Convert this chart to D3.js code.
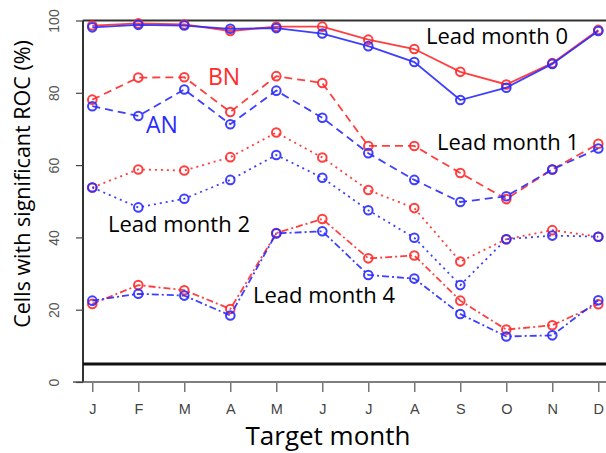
<!DOCTYPE html>
<html><head><meta charset="utf-8">
<script src="https://cdn.jsdelivr.net/npm/d3@7/dist/d3.min.js"></script>
<style>body{margin:0;background:#fff}svg{display:block}</style>
</head><body><svg id="c" width="606" height="453"></svg>
<script>
const months = ["J","F","M","A","M","J","J","A","S","O","N","D"];
const yTicks = [0,20,40,60,80,100];
// Below normal (BN, red) and above normal (AN, blue)
const bnLead0 = [98.6,99.2,98.9,97.1,98.3,98.3,94.7,92.1,85.8,82.3,88.2,97.4];
const anLead0 = [98.1,98.8,98.6,97.7,97.9,96.4,92.9,88.5,78.0,81.4,88.0,97.1];
const bnLead1 = [78.1,84.2,84.3,74.7,84.6,82.7,65.3,65.3,57.8,50.6,58.8,65.9];
const anLead1 = [76.3,73.6,80.9,71.3,80.6,73.1,63.3,55.9,49.8,51.4,58.8,64.6];
const bnLead2 = [53.8,58.8,58.5,62.2,69.0,62.1,53.1,48.1,33.3,39.5,42.0,40.2];
const anLead2 = [53.8,48.3,50.7,55.9,62.8,56.5,47.5,39.9,26.8,39.5,40.5,40.2];
const bnLead4 = [21.6,26.8,25.4,20.2,41.2,45.1,34.2,35.0,22.5,14.5,15.7,21.5];
const anLead4 = [22.5,24.4,23.9,18.4,41.1,41.7,29.6,28.6,18.8,12.6,12.9,22.6];
const threshold = 5;

const series = [
  {vals: bnLead0, color: "#ff2a2a", dash: null},
  {vals: anLead0, color: "#2a2aff", dash: null},
  {vals: bnLead1, color: "#ff2a2a", dash: "8,5"},
  {vals: anLead1, color: "#2a2aff", dash: "8,5"},
  {vals: bnLead2, color: "#ff2a2a", dash: "2,4"},
  {vals: anLead2, color: "#2a2aff", dash: "2,4"},
  {vals: bnLead4, color: "#ff2a2a", dash: "7,3,2,3"},
  {vals: anLead4, color: "#2a2aff", dash: "7,3,2,3"}
];

const svg = d3.select("#c");
const x = d3.scaleLinear().domain([0,11]).range([92.3,598.3]);
const y = d3.scaleLinear().domain([0,100]).range([382,20.5]);

// frame
svg.append("line").attr("x1",83).attr("x2",606).attr("y1",y(100)).attr("y2",y(100)).attr("stroke","#333").attr("stroke-width",2);
svg.append("line").attr("x1",83).attr("x2",83).attr("y1",y(100)).attr("y2",y(0)).attr("stroke","#333").attr("stroke-width",2);
svg.append("line").attr("x1",73).attr("x2",606).attr("y1",y(0)).attr("y2",y(0)).attr("stroke","#555").attr("stroke-width",1.5);
svg.append("line").attr("x1",83).attr("x2",606).attr("y1",y(threshold)).attr("y2",y(threshold)).attr("stroke","#111").attr("stroke-width",3);

// y axis
const ya = svg.append("g").attr("transform","translate(83,0)")
  .call(d3.axisLeft(y).tickValues(yTicks).tickSize(7).tickPadding(0));
ya.select(".domain").remove();
ya.selectAll("line").attr("stroke","#444").attr("stroke-width",1.2);
ya.selectAll("text").attr("transform","rotate(-90)").attr("x",0).attr("dx",0)
  .attr("y",-24).attr("dy",0).attr("text-anchor","middle")
  .style("font-family","Liberation Sans, Arial").style("font-size","14px").attr("fill","#555");

// x axis
const xa = svg.append("g").attr("transform","translate(0,383)")
  .call(d3.axisBottom(x).tickValues(d3.range(12)).tickFormat(i=>months[i]).tickSize(9).tickPadding(12));
xa.select(".domain").remove();
xa.selectAll("line").attr("stroke","#555").attr("stroke-width",1.2);
xa.selectAll("text").style("font-family","Liberation Sans, Arial").style("font-size","14.5px").attr("fill","#444");

// lines & points
const line = d3.line().x((d,i)=>x(i)).y(d=>y(d));
series.forEach(s=>{
  svg.append("path").datum(s.vals).attr("d",line).attr("fill","none")
    .attr("stroke",s.color).attr("stroke-width",1.8).attr("stroke-dasharray",s.dash)
    .attr("opacity",0.9);
  svg.append("g").selectAll("circle").data(s.vals).join("circle")
    .attr("cx",(d,i)=>x(i)).attr("cy",d=>y(d)).attr("r",4.3)
    .attr("fill","none").attr("stroke",s.color).attr("stroke-width",2).attr("opacity",0.9);
});

// labels
const lab = (t,xx,yy,c,sz)=>svg.append("text").attr("x",xx).attr("y",yy).text(t)
  .attr("fill",c).style("font-family","Open Sans, sans-serif").style("font-size",sz+"px");
lab("Lead month 0",426,44,"#000",22);
lab("Lead month 1",437,150,"#000",22);
lab("Lead month 2",108,232,"#000",22);
lab("Lead month 4",253,303,"#000",22);
lab("BN",208,85,"#ff2a2a",23);
lab("AN",146,133,"#2a2aff",23);
lab("Target month",328,445,"#000",26).attr("text-anchor","middle");
svg.append("text").attr("transform","translate(30,184) rotate(-90)").attr("text-anchor","middle")
  .text("Cells with significant ROC (%)").attr("fill","#000")
  .style("font-family","Open Sans, sans-serif").style("font-size","21.5px");
</script></body></html>
